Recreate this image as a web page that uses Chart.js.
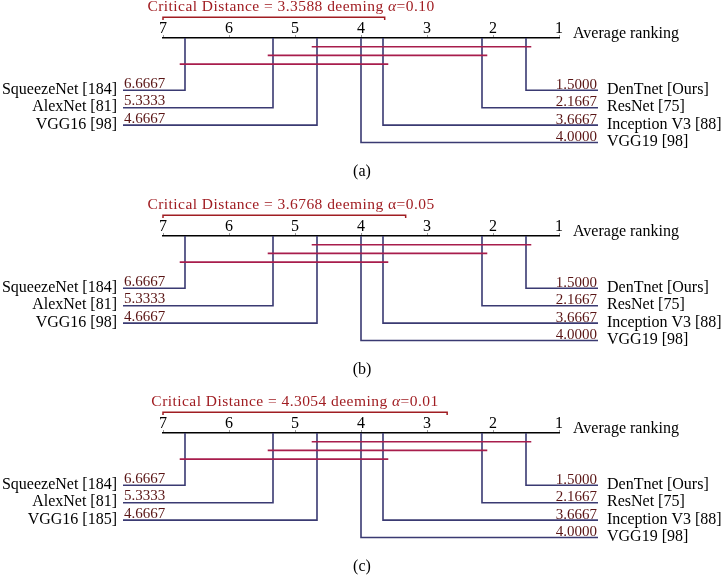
<!DOCTYPE html>
<html><head><meta charset="utf-8">
<script src="https://cdn.jsdelivr.net/npm/chart.js@4.4.1/dist/chart.umd.min.js"></script>
<style>
html,body{margin:0;padding:0;background:#fff;}
#wrap{position:relative;width:724px;height:575px;overflow:hidden;background:#fff;}
canvas{position:absolute;left:0;}
</style></head><body>
<div id="wrap">
<canvas id="c0" width="724" height="180" style="top:0px"></canvas>
<canvas id="c1" width="724" height="180" style="top:198px"></canvas>
<canvas id="c2" width="724" height="180" style="top:395px"></canvas>
</div>
<script>
// ---------- data ----------
const panelCaptions = ['(a)', '(b)', '(c)'];
const criticalDistances = [3.3588, 3.6768, 4.3054];
const alphaLevels = ['0.10', '0.05', '0.01'];
const leftModelNames = [
  ['SqueezeNet [184]', 'AlexNet [81]', 'VGG16 [98]'],
  ['SqueezeNet [184]', 'AlexNet [81]', 'VGG16 [98]'],
  ['SqueezeNet [184]', 'AlexNet [81]', 'VGG16 [185]']
];
const leftRanks = [6.6667, 5.3333, 4.6667];
const rightModelNames = ['DenTnet [Ours]', 'ResNet [75]', 'Inception V3 [88]', 'VGG19 [98]'];
const rightRanks = [1.5000, 2.1667, 3.6667, 4.0000];
const cliqueWorst = [4.6667, 5.3333, 6.6667];
const cliqueBest = [1.5000, 2.1667, 3.6667];
const rankTicks = [7, 6, 5, 4, 3, 2, 1];
const axisTitle = 'Average ranking';

// ---------- layout / style ----------
const L = {
  rowStart: 6, rowStep: 2, cliqueRow0: 1, cliqueStep: 1,
  leftEdge: 7.606, rightEdge: 0.409, cliquePad: 0.08,
  bracketY: -2.38, bracketTickY: -2.07,
  titleY: -3.12, captionY: 15.85,
  leftNameX: 7.697, rightNameX: 0.273,
  titleCenter: [5.06, 5.06, 5.0],
  italicAlpha: [true, false, true]
};
const C = {
  navy: '#3a3a72', red: '#a81d4c', title: '#a01d22', num: '#5a1515', axis: '#000'
};
const SERIF = '"Liberation Serif", "Times New Roman", serif';

function buildDatasets(p) {
  const ds = [];
  cliqueWorst.forEach((w, i) => {
    ds.push({
      data: [{x: w + L.cliquePad, y: L.cliqueRow0 + i * L.cliqueStep},
             {x: cliqueBest[i] - L.cliquePad, y: L.cliqueRow0 + i * L.cliqueStep}],
      borderColor: C.red, borderWidth: 1.6, order: 0
    });
  });
  leftRanks.forEach((r, i) => {
    const row = L.rowStart + i * L.rowStep;
    ds.push({
      data: [{x: r, y: 0}, {x: r, y: row}, {x: L.leftEdge, y: row}],
      borderColor: C.navy, borderWidth: 1.6, order: 1
    });
  });
  rightRanks.forEach((r, i) => {
    const row = L.rowStart + i * L.rowStep;
    ds.push({
      data: [{x: r, y: 0}, {x: r, y: row}, {x: L.rightEdge, y: row}],
      borderColor: C.navy, borderWidth: 1.6, order: 1
    });
  });
  const cd = criticalDistances[p];
  ds.push({
    data: [{x: 7, y: L.bracketTickY}, {x: 7, y: L.bracketY},
           {x: 7 - cd, y: L.bracketY}, {x: 7 - cd, y: L.bracketTickY}],
    borderColor: C.title, borderWidth: 1.5, order: 0
  });
  ds.forEach(d => { d.pointRadius = 0; d.fill = false; d.tension = 0; d.clip = false; d.borderJoinStyle = 'miter'; });
  return ds;
}

const cdText = {
  id: 'cdText',
  afterDatasetsDraw(chart, args, opts) {
    const p = opts.panel;
    const ctx = chart.ctx, xs = chart.scales.x, ys = chart.scales.y;
    ctx.save();
    ctx.textBaseline = 'alphabetic';
    const fN = '15.5px ' + SERIF, fI = 'italic 15.5px ' + SERIF;
    const parts = [
      ['Critical Distance = ' + criticalDistances[p].toFixed(4) + ' deeming ', fN],
      ['\u03b1', L.italicAlpha[p] ? fI : fN],
      ['=' + alphaLevels[p], fN]
    ];
    ctx.letterSpacing = '0.45px';
    let tw = 0;
    parts.forEach(pt => { ctx.font = pt[1]; tw += ctx.measureText(pt[0]).width; });
    let tx = xs.getPixelForValue(L.titleCenter[p]) - tw / 2;
    const ty = ys.getPixelForValue(L.titleY);
    ctx.fillStyle = C.title; ctx.textAlign = 'left';
    parts.forEach(pt => { ctx.font = pt[1]; ctx.fillText(pt[0], tx, ty); tx += ctx.measureText(pt[0]).width; });
    ctx.letterSpacing = '0px';

    ctx.font = '16px ' + SERIF; ctx.fillStyle = '#000'; ctx.textAlign = 'left';
    ctx.fillText(axisTitle, xs.getPixelForValue(1) + 14, ys.getPixelForValue(0));

    leftRanks.forEach((r, i) => {
      const y = ys.getPixelForValue(L.rowStart + i * L.rowStep);
      ctx.font = '16px ' + SERIF; ctx.fillStyle = '#000'; ctx.textAlign = 'right';
      ctx.fillText(leftModelNames[p][i], xs.getPixelForValue(L.leftNameX), y + 3.5);
      ctx.font = '15px ' + SERIF; ctx.fillStyle = C.num; ctx.textAlign = 'left';
      ctx.fillText(r.toFixed(4), xs.getPixelForValue(L.leftEdge) + 1, y - 2.5);
    });
    rightRanks.forEach((r, i) => {
      const y = ys.getPixelForValue(L.rowStart + i * L.rowStep);
      ctx.font = '15px ' + SERIF; ctx.fillStyle = C.num; ctx.textAlign = 'right';
      ctx.fillText(r.toFixed(4), xs.getPixelForValue(L.rightEdge) - 1, y - 1.5);
      ctx.font = '16px ' + SERIF; ctx.fillStyle = '#000'; ctx.textAlign = 'left';
      ctx.fillText(rightModelNames[i], xs.getPixelForValue(L.rightNameX), y + 3.5);
    });
    ctx.font = '16px ' + SERIF; ctx.fillStyle = '#000'; ctx.textAlign = 'center';
    ctx.fillText(panelCaptions[p], chart.width / 2, ys.getPixelForValue(L.captionY));
    ctx.restore();
  }
};

[0, 1, 2].forEach(p => {
  new Chart(document.getElementById('c' + p), {
    type: 'line',
    data: { datasets: buildDatasets(p) },
    plugins: [cdText],
    options: {
      responsive: false, animation: false, devicePixelRatio: 1,
      layout: { padding: { top: 18, left: 163, right: 165, bottom: 0 } },
      plugins: { legend: { display: false }, tooltip: { enabled: false }, cdText: { panel: p } },
      events: [],
      scales: {
        x: {
          type: 'linear', position: 'top', reverse: true, min: 1, max: 7,
          afterBuildTicks: s => { s.ticks = rankTicks.map(v => ({ value: v })); },
          afterFit: s => { s.height = 20; },
          ticks: { font: { family: SERIF, size: 16 }, color: '#000', padding: -3.5, maxRotation: 0, autoSkip: false },
          grid: { drawOnChartArea: false, drawTicks: true, tickLength: 3, color: '#999', lineWidth: 1 },
          border: { display: true, color: C.axis, width: 1.5 }
        },
        y: { type: 'linear', display: false, reverse: true, min: 0, max: 16.3 }
      }
    }
  });
});
</script>
</body></html>
